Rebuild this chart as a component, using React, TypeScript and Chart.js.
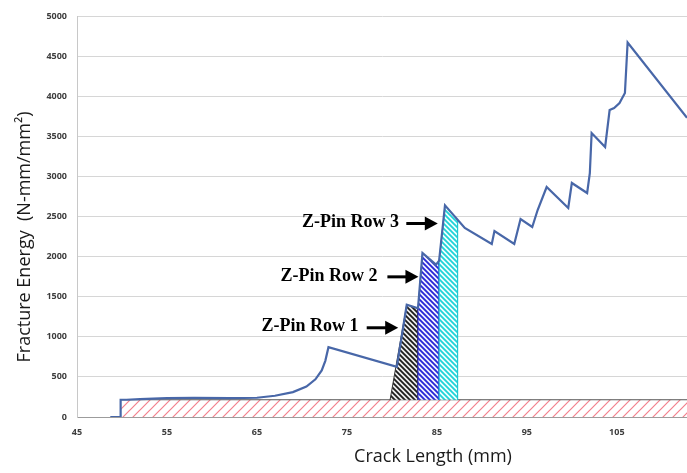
import React, { useEffect, useRef } from "react";
import { Chart, registerables } from "chart.js";

Chart.register(...registerables);

// Main fracture-energy curve
const crackLength = [48.7, 49.8, 49.85, 50.5, 52, 55, 58, 62, 65, 67, 69, 70.5, 71.5, 72.2, 72.6, 72.95, 80.55, 81.65, 82.9, 83.4, 84.9, 85.25, 85.9, 88.1, 91.1, 91.4, 93.6, 94.3, 95.6, 96.2, 97.2, 99.6, 100, 101.7, 102, 102.2, 103.7, 104.2, 104.7, 105.3, 105.9, 106.2, 112.8];
const fractureEnergy = [0, 0, 215, 215, 222, 235, 238, 235, 240, 265, 310, 380, 470, 580, 700, 870, 625, 1400, 1355, 2045, 1900, 1950, 2640, 2357, 2157, 2319, 2157, 2469, 2369, 2581, 2868, 2606, 2918, 2793, 3040, 3541, 3367, 3828, 3853, 3915, 4040, 4670, 3730];

// Base (matrix) region
const baseX = [49.85, 112.8];
const baseY = [215, 215];

// Z-pin row regions
const row1X = [79.8, 81.65, 82.9, 82.9];
const row1Y = [215, 1400, 1355, 215];
const row2X = [82.9, 82.9, 83.4, 84.9, 85.25, 85.25];
const row2Y = [215, 1355, 2045, 1900, 1950, 215];
const row3X = [85.25, 85.25, 85.9, 87.3, 87.3];
const row3Y = [215, 1950, 2640, 2460, 215];

// Axis ticks
const xTicks = [45, 55, 65, 75, 85, 95, 105];
const xMin = 45;
const xMax = 112.8;
const yMin = 0;
const yMax = 5000;
const yStep = 500;

// Annotations (data units)
const noteLabels = ["Z-Pin Row 1", "Z-Pin Row 2", "Z-Pin Row 3"];
const noteTextEndX = [76.3, 78.4, 80.8];
const noteY = [1125, 1760, 2425];
const arrowStartX = [77.2, 79.5, 81.6];
const arrowEndX = [80.7, 82.95, 85.1];

const toPoints = (xs: number[], ys: number[]) => xs.map((x, i) => ({ x, y: ys[i] }));

function makePattern(stroke: string, bg: string, size: number, lw: number, dir: "/" | "\\") {
  const c = document.createElement("canvas");
  c.width = size;
  c.height = size;
  const g = c.getContext("2d")!;
  g.fillStyle = bg;
  g.fillRect(0, 0, size, size);
  g.strokeStyle = stroke;
  g.lineWidth = lw;
  g.beginPath();
  for (const k of [-1, 0, 1]) {
    if (dir === "/") {
      g.moveTo(k * size - size, 2 * size);
      g.lineTo(k * size + 2 * size, -size);
    } else {
      g.moveTo(k * size - size, -size);
      g.lineTo(k * size + 2 * size, 2 * size);
    }
  }
  g.stroke();
  return g.createPattern(c, "repeat")!;
}

const notesPlugin = {
  id: "zpinNotes",
  afterDatasetsDraw(chart: any) {
    const { ctx, scales } = chart;
    const x = scales.x;
    const y = scales.y;
    ctx.save();
    ctx.font = "bold 18px 'Liberation Serif', serif";
    ctx.fillStyle = "#000";
    ctx.textAlign = "right";
    ctx.textBaseline = "middle";
    for (let i = 0; i < noteLabels.length; i++) {
      const py = y.getPixelForValue(noteY[i]);
      ctx.fillText(noteLabels[i], x.getPixelForValue(noteTextEndX[i]), py);
      const x0 = x.getPixelForValue(arrowStartX[i]);
      const x1 = x.getPixelForValue(arrowEndX[i]);
      const ay = py + 1;
      ctx.strokeStyle = "#000";
      ctx.lineWidth = 3;
      ctx.beginPath();
      ctx.moveTo(x0, ay);
      ctx.lineTo(x1 - 10, ay);
      ctx.stroke();
      ctx.beginPath();
      ctx.moveTo(x1, ay);
      ctx.lineTo(x1 - 13, ay - 7);
      ctx.lineTo(x1 - 13, ay + 7);
      ctx.closePath();
      ctx.fill();
    }
    // axis titles
    ctx.fillStyle = "#1a1a1a";
    ctx.textAlign = "center";
    ctx.font = "18px 'Open Sans', sans-serif";
    ctx.save();
    ctx.translate(25, 237);
    ctx.rotate(-Math.PI / 2);
    ctx.fillText("Fracture Energy  (N-mm/mm²)", 0, 0);
    ctx.restore();
    ctx.font = "18px 'Open Sans', sans-serif";
    ctx.fillText("Crack Length (mm)", 433, 457);
    ctx.restore();
  },
};

export default function App() {
  const ref = useRef<HTMLCanvasElement | null>(null);
  useEffect(() => {
    document.body.style.margin = "0";
    const canvas = ref.current!;
    const redPat = makePattern("#f3808c", "#ffffff", 10, 1.2, "/");
    const blackPat = makePattern("#1c1c1c", "#eeeeee", 5, 1.8, "\\");
    const bluePat = makePattern("#2626d6", "#f2f2ff", 5, 1.8, "\\");
    const cyanPat = makePattern("#1fd3d8", "#f2ffff", 5, 1.8, "\\");
    const tickFont = { family: "'Open Sans', sans-serif", size: 9, weight: 700 as any };
    const chart = new Chart(canvas, {
      type: "line",
      data: {
        datasets: [
          {
            data: toPoints(crackLength, fractureEnergy),
            borderColor: "#4867a8",
            borderWidth: 2.2,
            pointRadius: 0,
            fill: false,
            tension: 0,
          },
          {
            data: toPoints(row3X, row3Y),
            borderColor: "#1fc8cf",
            borderWidth: 1,
            pointRadius: 0,
            backgroundColor: cyanPat,
            fill: { value: 215 },
            tension: 0,
          },
          {
            data: toPoints(row2X, row2Y),
            borderColor: "#2a2acc",
            borderWidth: 1,
            pointRadius: 0,
            backgroundColor: bluePat,
            fill: { value: 215 },
            tension: 0,
          },
          {
            data: toPoints(row1X, row1Y),
            borderColor: "#333333",
            borderWidth: 1,
            pointRadius: 0,
            backgroundColor: blackPat,
            fill: { value: 215 },
            tension: 0,
          },
          {
            data: toPoints(baseX, baseY),
            borderColor: "#555555",
            borderWidth: 1,
            pointRadius: 0,
            backgroundColor: redPat,
            fill: { target: "origin", above: redPat, below: redPat },
            tension: 0,
          },
        ],
      },
      options: {
        animation: false,
        responsive: false,
        parsing: false as any,
        normalized: true,
        layout: { padding: { top: 16, right: 0, left: 0, bottom: 0 } },
        plugins: { legend: { display: false }, tooltip: { enabled: false }, title: { display: false } },
        scales: {
          x: {
            type: "linear",
            min: xMin,
            max: xMax,
            afterBuildTicks: (scale: any) => {
              scale.ticks = xTicks.map((v) => ({ value: v }));
            },
            afterFit: (scale: any) => {
              scale.height = 56;
            },
            grid: { display: false, drawTicks: false },
            border: { display: true, color: "#9c9c9c", width: 1 },
            ticks: {
              font: tickFont,
              color: "#3c3c3c",
              padding: 10,
              maxRotation: 0,
              autoSkip: false,
              callback: (v: any) => String(v),
            },
          },
          y: {
            type: "linear",
            min: yMin,
            max: yMax,
            afterFit: (scale: any) => {
              scale.width = 77;
            },
            grid: { color: "#d6d6d6", lineWidth: 1, drawTicks: false },
            border: { display: true, color: "#c8c8c8", width: 1 },
            ticks: {
              stepSize: yStep,
              font: tickFont,
              color: "#3c3c3c",
              padding: 10,
              callback: (v: any) => String(v),
            },
          },
        },
      },
      plugins: [notesPlugin],
    });
    return () => chart.destroy();
  }, []);
  return (
    <div style={{ width: 687, height: 473, background: "#fff" }}>
      <canvas ref={ref} width={687} height={473} style={{ display: "block" }} />
    </div>
  );
}
